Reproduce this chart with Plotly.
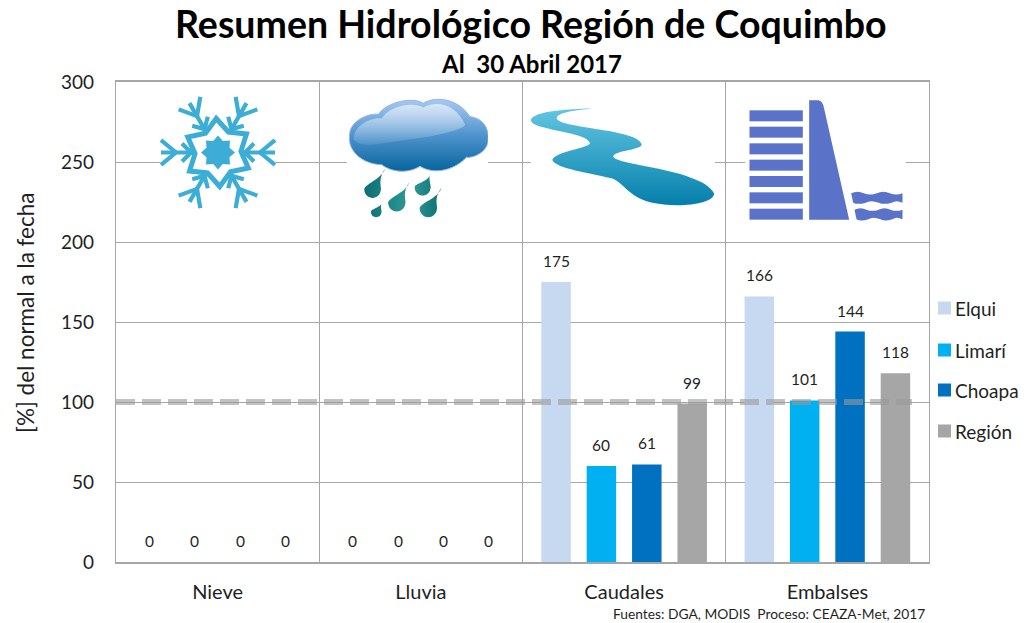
import base64
import math
import plotly.graph_objects as go

categories = ["Nieve", "Lluvia", "Caudales", "Embalses"]
elqui = [0, 0, 175, 166]
limari = [0, 0, 60, 101]
choapa = [0, 0, 61, 144]
region = [0, 0, 99, 118]
series_names = ["Elqui", "Limarí", "Choapa", "Región"]
series_values = [elqui, limari, choapa, region]
series_colors = ["#c6d9f1", "#00b0f0", "#0070c0", "#a6a6a6"]
normal_value = 100

FONT = "Lato"
TEXT = "#1f1f1f"
GRID = "#a6a6a6"

# plot area in page pixels
PX_L, PX_R, PX_T, PX_B = 116, 929, 82, 562


def paper_x(px):
    return (px - PX_L) / (PX_R - PX_L)


def paper_y(py):
    return (PX_B - py) / (PX_B - PX_T)


def snowflake_svg():
    arm = (
        '<g stroke="#3cadd6" stroke-width="4.2" fill="none">'
        '<path d="M20 0 H57"/>'
        '<path d="M42 0 L57 -12.5 M42 0 L57 12.5"/>'
        '<path d="M27 0 L36 -9 M27 0 L36 9"/>'
        '</g>'
    )
    arms = "".join(f'<g transform="rotate({a})">{arm}</g>' for a in range(0, 360, 60))
    pts = []
    for k in range(12):
        r = 34 if k % 2 == 0 else 23
        a = math.radians(30 + 30 * k)
        pts.append(f"{r * math.cos(a):.1f} {r * math.sin(a):.1f}")
    ring = ('<g transform="rotate(-3)"><path fill="#fff" stroke="#3cadd6" stroke-width="5" d="M'
            + " L".join(pts) + ' Z"/></g>')
    star_pts = []
    for k in range(16):
        r = 17 if k % 2 == 0 else 12.5
        a = math.radians(22.5 * k)
        star_pts.append(f"{r * math.cos(a):.1f},{r * math.sin(a):.1f}")
    star = f'<polygon points="{" ".join(star_pts)}" fill="#3cadd6"/>'
    return (
        '<svg xmlns="http://www.w3.org/2000/svg" width="116" height="116" viewBox="-58 -58 116 116">'
        '<rect x="-58" y="-58" width="116" height="116" fill="#fff"/>'
        f'{arms}{ring}{star}</svg>'
    )


def drop(tx, ty, cx, cy, r):
    return (
        f'M{tx} {ty} C{cx + r * 0.6} {cy - r * 1.2} {cx + r * 1.1} {cy - r * 0.3} {cx + r} {cy} '
        f'C{cx + r * 0.9} {cy + r * 1.3} {cx - r * 0.9} {cy + r * 1.3} {cx - r} {cy} '
        f'C{cx - r} {cy - r * 0.7} {tx - r * 0.4} {ty + r * 1.3} {tx} {ty} Z '
    )


def cloud_svg():
    cloud = (
        "M688 150 C688 110 740 85 775 88 C800 50 880 35 910 55 C950 30 1020 45 1050 95 "
        "C1090 100 1110 130 1105 170 C1100 205 1060 220 1040 218 C1000 260 940 270 900 245 "
        "C860 270 810 260 785 240 C730 240 680 200 688 150 Z"
    )
    gloss = (
        "M700 165 C700 120 750 98 785 100 C810 62 880 50 910 68 C950 45 1010 58 1036 120 "
        "C1030 135 950 155 860 165 C790 172 730 195 700 165 Z"
    )
    drops = (
        drop(795, 252, 757, 316, 25) + drop(868, 292, 830, 356, 26) + drop(933, 265, 908, 310, 24)
        + drop(965, 310, 925, 373, 26) + drop(787, 352, 768, 383, 16)
    )
    return (
        '<svg xmlns="http://www.w3.org/2000/svg" width="141" height="120" viewBox="680 40 425 360">'
        '<defs>'
        '<linearGradient id="c" x1="0" y1="0" x2="0" y2="1">'
        '<stop offset="0" stop-color="#a9c9f0"/><stop offset="0.5" stop-color="#4f93cd"/>'
        '<stop offset="1" stop-color="#06659c"/></linearGradient>'
        '<linearGradient id="g" x1="0" y1="0" x2="0" y2="1">'
        '<stop offset="0" stop-color="#fff" stop-opacity="0.6"/>'
        '<stop offset="1" stop-color="#fff" stop-opacity="0.1"/></linearGradient>'
        '<linearGradient id="d" x1="0" y1="0" x2="1" y2="0">'
        '<stop offset="0" stop-color="#0c6f73"/><stop offset="0.6" stop-color="#2f9a9a"/>'
        '<stop offset="1" stop-color="#0d6e72"/></linearGradient>'
        '</defs>'
        '<rect x="680" y="40" width="425" height="360" fill="#fff"/>'
        f'<path d="{cloud}" fill="url(#c)" stroke="#8fb4ee" stroke-width="3"/>'
        f'<path d="{gloss}" fill="url(#g)"/>'
        f'<path d="{drops}" fill="url(#d)"/>'
        '</svg>'
    )


def river_svg():
    river = (
        "M205 70 C150 72 60 75 25 95 C5 110 30 122 60 128 C110 142 190 150 195 175 "
        "C190 190 90 200 82 225 C90 250 200 265 260 280 C300 295 310 340 390 355 "
        "C470 370 570 355 567 325 C550 285 450 260 370 245 C320 235 260 225 265 212 "
        "C280 195 350 195 350 178 C340 150 260 140 200 130 C150 120 95 115 95 98 "
        "C100 80 170 75 205 70 Z"
    )
    return (
        '<svg xmlns="http://www.w3.org/2000/svg" width="184" height="104" viewBox="18 60 552 312">'
        '<defs><linearGradient id="r" x1="0" y1="0" x2="0" y2="1">'
        '<stop offset="0" stop-color="#63c6e2"/><stop offset="1" stop-color="#047fab"/>'
        '</linearGradient></defs>'
        '<rect x="18" y="60" width="552" height="312" fill="#fff"/>'
        f'<path d="{river}" fill="url(#r)"/></svg>'
    )


def wave(x0, x1, top, bottom):
    # band with a wavy upper and lower edge
    xs = [x0 + (x1 - x0) * k / 4 for k in range(5)]
    up = f"M{xs[0]:.0f} {top} "
    for k in range(1, 5):
        dy = -9 if k % 2 else 7
        up += f"Q{(xs[k - 1] + xs[k]) / 2:.0f} {top + dy} {xs[k]:.0f} {top} "
    up += f"L{x1} {bottom} "
    for k in range(3, -1, -1):
        dy = 7 if k % 2 == 0 else -9
        up += f"Q{(xs[k + 1] + xs[k]) / 2:.0f} {bottom + dy} {xs[k] + 6:.0f} {bottom} "
    return up + "Z "


def dam_svg():
    blue = "#5a72c8"
    floors = "".join(
        f'<rect x="673" y="{y}" width="160" height="33" fill="{blue}"/>'
        for y in [75, 124, 174, 223, 272, 321, 370]
    )
    wall = "M852 45 L880 45 Q893 47 897 70 L972 403 L852 403 Z "
    return (
        '<svg xmlns="http://www.w3.org/2000/svg" width="161" height="125" viewBox="660 35 482 375">'
        '<rect x="660" y="35" width="482" height="375" fill="#fff"/>'
        f'{floors}<path d="{wall}{wave(978, 1132, 324, 352)}{wave(988, 1132, 373, 402)}" fill="{blue}"/></svg>'
    )


def icon(svg, x0, y0, x1, y1):
    # place an svg by its page pixel box
    src = "data:image/svg+xml;base64," + base64.b64encode(svg.encode()).decode()
    return dict(
        source=src, xref="paper", yref="paper", layer="above",
        x=paper_x(x0), y=paper_y(y0),
        sizex=(x1 - x0) / (PX_R - PX_L), sizey=(y1 - y0) / (PX_B - PX_T),
        xanchor="left", yanchor="top", sizing="stretch",
    )


fig = go.Figure()
for name, values, color in zip(series_names, series_values, series_colors):
    fig.add_trace(go.Bar(x=categories, y=values, name=name, marker_color=color,
                         marker_line_width=0, showlegend=False))

# value labels sit well above the bars, so they are annotations
group_step = 0.223
for j, values in enumerate(series_values):
    for i, v in enumerate(values):
        fig.add_annotation(x=i + (j - 1.5) * group_step, y=v, yshift=21, text=str(v),
                           showarrow=False, font=dict(family=FONT, size=15.5, color=TEXT))

fig.add_shape(type="line", xref="paper", yref="y", x0=0, x1=paper_x(912),
              y0=normal_value, y1=normal_value, layer="above", opacity=0.6,
              line=dict(color="#9a9a9a", width=6, dash="19px,7px"))

# legend: squares and names placed by hand, plotly's swatch gap is too wide
legend_y = [308, 350, 390, 431]
for name, color, py in zip(series_names, series_colors, legend_y):
    fig.add_shape(type="rect", xref="paper", yref="paper", layer="above",
                  x0=paper_x(938), x1=paper_x(951), y0=paper_y(py - 6.5), y1=paper_y(py + 6.5),
                  fillcolor=color, line_width=0)
    fig.add_annotation(xref="paper", yref="paper", x=paper_x(953), y=paper_y(py), text=name,
                       xanchor="left", yanchor="middle", showarrow=False,
                       font=dict(family=FONT, size=19, color=TEXT))

fig.add_annotation(xref="paper", yref="paper", x=paper_x(531), y=paper_y(24),
                   text="<b>Resumen Hidrológico Región de Coquimbo</b>", showarrow=False,
                   font=dict(family=FONT, size=37.5, color="#000000"), yanchor="middle")
fig.add_annotation(xref="paper", yref="paper", x=paper_x(531), y=paper_y(63),
                   text="<b>Al  30 Abril 2017</b>", showarrow=False,
                   font=dict(family=FONT, size=24, color="#000000"), yanchor="middle")
fig.add_annotation(xref="paper", yref="paper", x=paper_x(927), y=paper_y(613),
                   text="Fuentes: DGA, MODIS  Proceso: CEAZA-Met, 2017", showarrow=False,
                   xanchor="right", yanchor="middle",
                   font=dict(family=FONT, size=13.8, color=TEXT))
# y title sits above the plot centre in the original
fig.add_annotation(xref="paper", yref="paper", x=paper_x(25), y=paper_y(313),
                   text="[%] del normal a la fecha", textangle=-90, showarrow=False,
                   xanchor="center", yanchor="middle",
                   font=dict(family=FONT, size=22.5, color=TEXT))

fig.update_layout(
    width=1036, height=623,
    margin=dict(l=PX_L, r=1036 - PX_R, t=PX_T, b=623 - PX_B, autoexpand=False),
    paper_bgcolor="white", plot_bgcolor="white",
    barmode="group", bargap=0.107, bargroupgap=0.35,
    font=dict(family=FONT, color=TEXT),
    showlegend=False,
    images=[
        icon(snowflake_svg(), 160, 94.5, 276, 210.5),
        icon(cloud_svg(), 347, 98, 488, 218),
        icon(river_svg(), 531, 105, 715, 209),
        icon(dam_svg(), 745, 97, 906, 222),
    ],
)
fig.update_xaxes(type="category", tickson="boundaries", showgrid=True, gridcolor=GRID, gridwidth=1.3,
                 showline=True, linecolor=GRID, linewidth=2, mirror=True, ticks="",
                 ticklabelstandoff=11, tickfont=dict(family=FONT, size=20, color=TEXT))
fig.update_yaxes(range=[0, 300], dtick=50, showgrid=True, gridcolor=GRID, gridwidth=1.3,
                 showline=True, linecolor=GRID, linewidth=1.3, mirror=True, ticks="",
                 zeroline=False, ticklabelstandoff=17, tickfont=dict(family=FONT, size=19, color=TEXT))

# the page body has a default margin, drop it so the picture sits at 0,0
fig.write_html("out.html", config=dict(displayModeBar=False),
               post_script="document.body.style.margin='0';")
